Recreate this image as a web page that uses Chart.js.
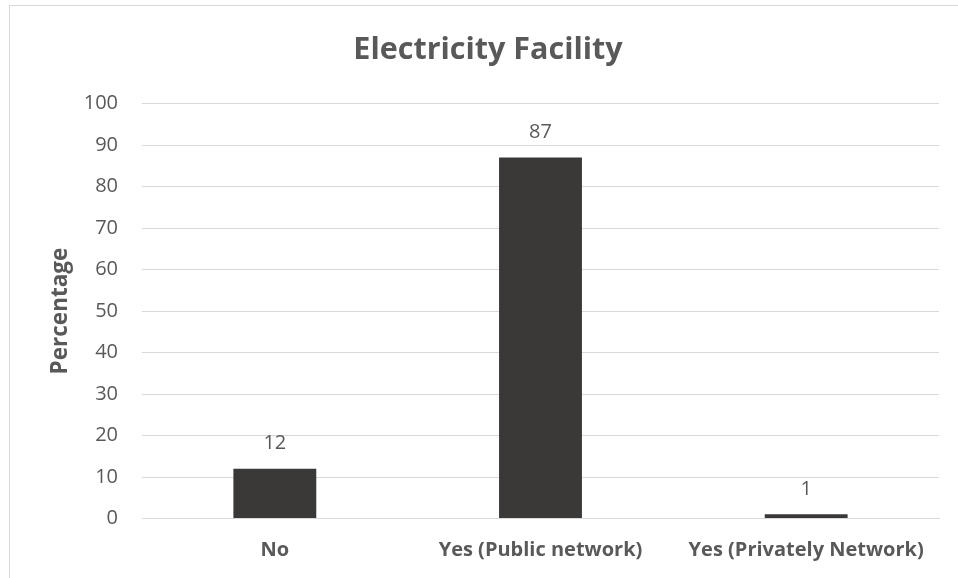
<!DOCTYPE html>
<html>
<head>
<meta charset="UTF-8">
<title>Electricity Facility</title>
<script src="https://cdn.jsdelivr.net/npm/chart.js"></script>
<style>
html,body{margin:0;padding:0;background:#fff;}
#wrap{position:relative;width:958px;height:578px;overflow:hidden;}
#frame{position:absolute;left:9px;top:5px;width:1000px;height:700px;border-left:1px solid #d9d9d9;border-top:1px solid #d9d9d9;}
canvas{position:absolute;left:0;top:0;}
</style>
</head>
<body>
<div id="wrap">
<div id="frame"></div>
<canvas id="chart" width="958" height="578"></canvas>
</div>
<script>
// Data
const categories = ['No','Yes (Public network)','Yes (Privately Network)'];
const percentages = [12, 87, 1];
const yTicks = [0,10,20,30,40,50,60,70,80,90,100];

const FONT = "'Open Sans', sans-serif";
const TEXT = '#595959';
const GRID = '#d9d9d9';
const BAR = '#3a3938';

// value labels above each bar
const valueLabels = {
    id:'valueLabels',
    afterDatasetsDraw(chart){
        const ctx = chart.ctx;
        const meta = chart.getDatasetMeta(0);
        ctx.save();
        ctx.font = '20px ' + FONT;
        ctx.fillStyle = TEXT;
        ctx.textAlign = 'center';
        ctx.textBaseline = 'middle';
        meta.data.forEach((bar,i)=>{
            ctx.fillText(String(chart.data.datasets[0].data[i]), bar.x, bar.y - 25);
        });
        ctx.restore();
    }
};

new Chart(document.getElementById('chart'),{
    type:'bar',
    data:{
        labels:categories,
        datasets:[{
            label:'Percentage',
            data:percentages,
            backgroundColor:BAR,
            borderWidth:0,
            barPercentage:0.312,
            categoryPercentage:1
        }]
    },
    options:{
        responsive:false,
        animation:false,
        layout:{padding:{left:37,right:19,top:0,bottom:0}},
        plugins:{
            legend:{display:false},
            tooltip:{enabled:false},
            title:{
                display:true,
                text:'Electricity Facility',
                color:TEXT,
                font:{family:FONT,size:30.5,weight:'bold',lineHeight:1.2},
                padding:{top:32,bottom:35}
            }
        },
        scales:{
            x:{
                grid:{display:false,drawTicks:false},
                border:{color:GRID,width:1},
                ticks:{color:TEXT,font:{family:FONT,size:20,weight:'bold'},padding:20,maxRotation:0},
                afterFit(scale){ scale.height = 59.5; }
            },
            y:{
                min:0,max:100,
                afterBuildTicks(scale){ scale.ticks = yTicks.map(v=>({value:v})); },
                grid:{color:GRID,lineWidth:1,drawTicks:false},
                border:{display:false},
                ticks:{color:TEXT,font:{family:FONT,size:20},padding:24},
                title:{
                    display:true,
                    text:'Percentage',
                    color:TEXT,
                    font:{family:FONT,size:22.5,weight:'bold',lineHeight:1.2},
                    padding:{top:10,bottom:0}
                },
                afterFit(scale){ scale.width = 105; }
            }
        }
    },
    plugins:[valueLabels]
});
</script>
</body>
</html>
